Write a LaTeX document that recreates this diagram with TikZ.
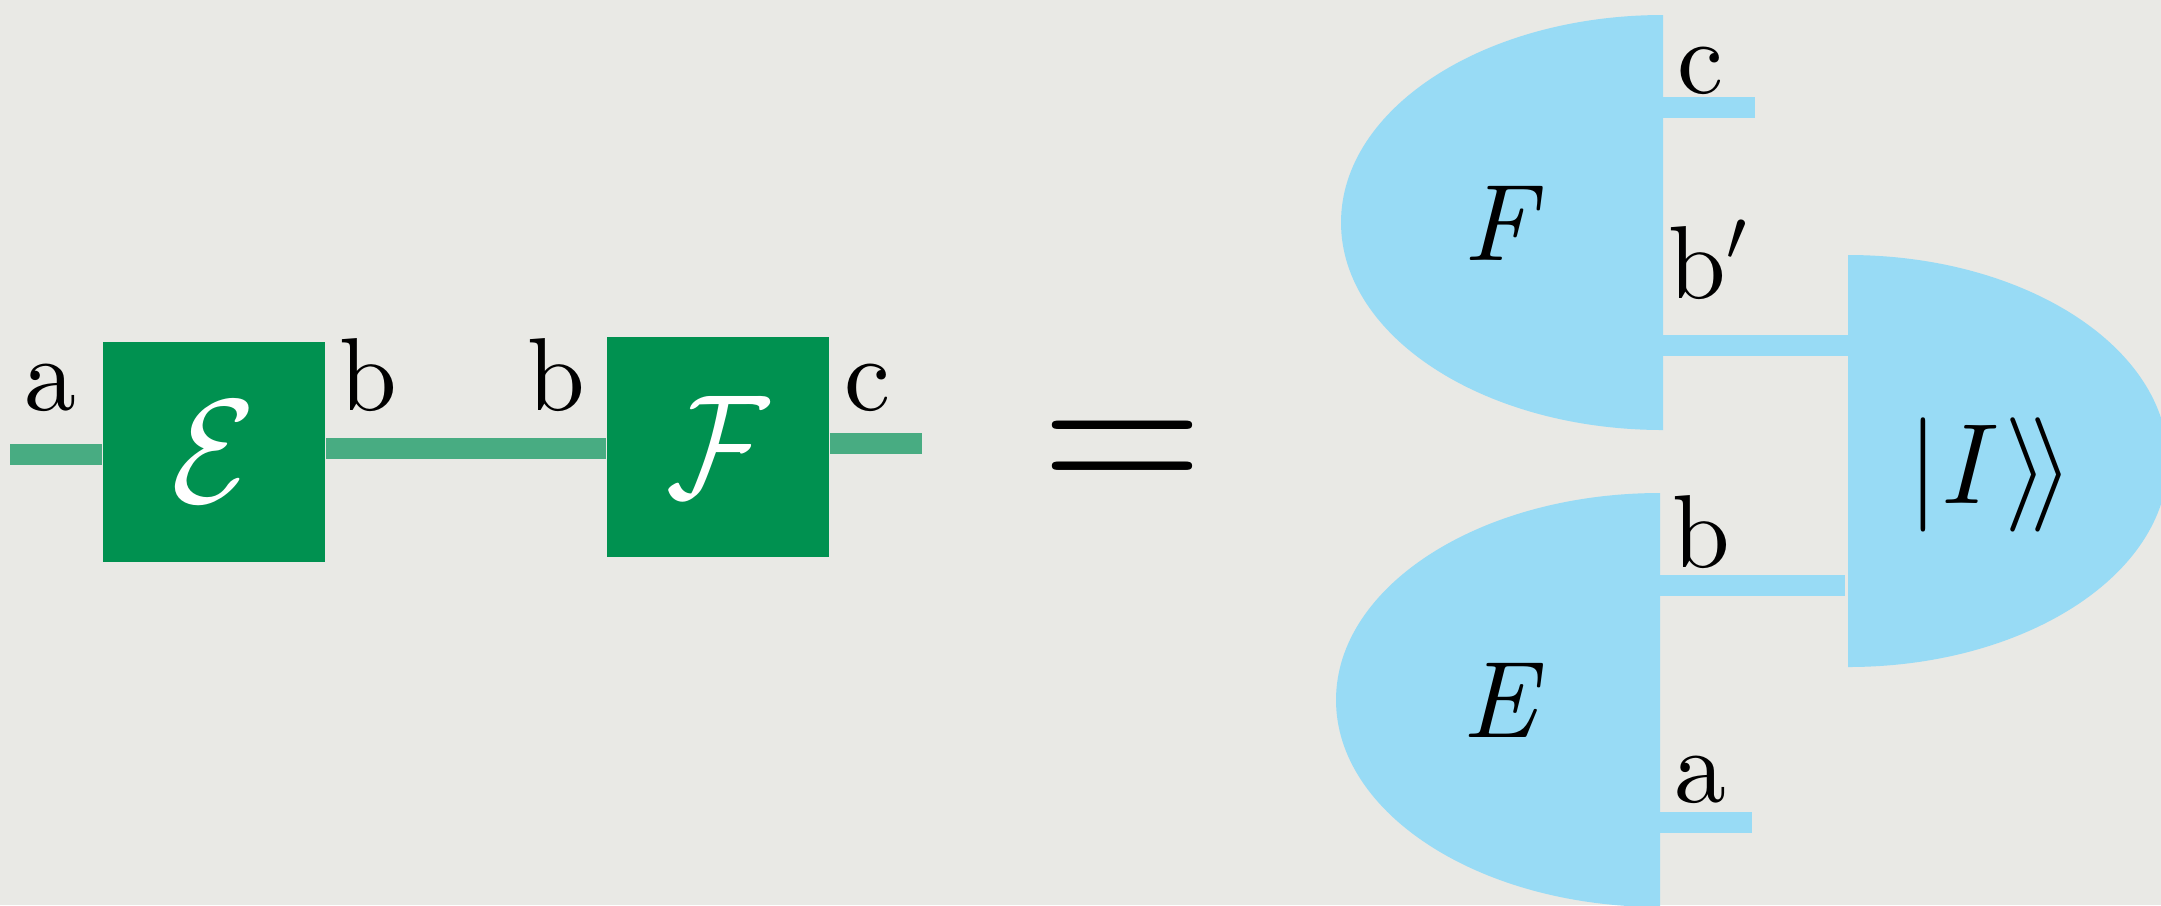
\RequirePackage{fix-cm}
\documentclass[tikz,border=0pt]{standalone}
\usepackage{graphicx}
\usepackage{fontspec}
\setmainfont{lmroman10-regular.otf}[ItalicFont=lmroman10-italic.otf]
\definecolor{bg}{RGB}{233,233,229}
\definecolor{boxgreen}{RGB}{0,145,80}
\definecolor{wiregreen}{RGB}{72,172,130}
\definecolor{skyblue}{RGB}{152,219,245}
\newcommand{\calglyph}[2]{\raisebox{-0.08cm}{\scalebox{#2}[1]{$\mathcal{#1}$}}}
\begin{document}
\begin{tikzpicture}[x=0.01cm,y=-0.01cm,
  gbox/.style={fill=boxgreen, minimum width=2.22cm, minimum height=2.20cm, inner sep=0pt, text=white, font=\fontsize{42}{50}\selectfont},
  gwire/.style={draw=wiregreen, line width=0.21cm},
  bwire/.style={draw=skyblue, line width=0.21cm},
  lab/.style={anchor=base, inner sep=0pt, font=\fontsize{29.5}{35}\selectfont},
  biglab/.style={anchor=base, inner sep=0pt, font=\fontsize{31}{37}\selectfont},
  half/.style={fill=skyblue}]
\fill[bg] (0,0) rectangle (2161,905);
\useasboundingbox (0,0) rectangle (2161,905);
\clip (0,0) rectangle (2161,905);

% ---------- left: circuit ----------
\node[gbox] (E) at (214,452) {\calglyph{E}{0.93}};
\node[gbox] (F) at (718,447) {\calglyph{F}{0.85}};
\coordinate (a0) at (10,454);
\coordinate (m0) at (0,448);
\coordinate (c1) at (922,443);
\draw[gwire] (a0) -- (a0 -| E.west);
\draw[gwire] (m0 -| E.east) -- (m0 -| F.west);
\draw[gwire] (c1 -| F.east) -- (c1);

\node[lab] (la) at (50,410) {a};
\node[lab] (lb1) at (368,410) {b};
\node[lab] (lb2) at (556,410) {b};
\node[lab] (lc) at (868,410) {c};

% ---------- equals ----------
\node[anchor=base, inner sep=0pt, font=\fontsize{60}{70}\selectfont] (eq) at (1123,498) {=};

% ---------- right: half-ellipse effects ----------
% F (top)
\fill[half] (1663,15) .. controls (1485.2,15) and (1341,107.9) .. (1341,222.5)
  .. controls (1341,337.1) and (1485.2,430) .. (1663,430) -- cycle;
% E (bottom)
\fill[half] (1660,493) .. controls (1481.1,493) and (1336,585.7) .. (1336,700)
  .. controls (1336,814.3) and (1481.1,907) .. (1660,907) -- cycle;
% |I>> (right)
\fill[half] (1848,255) .. controls (2024.7,255) and (2168,347.2) .. (2168,461)
  .. controls (2168,574.8) and (2024.7,667) .. (1848,667) -- cycle;

\coordinate (Fc) at (1660,107);   \coordinate (cOut) at (1755,107);
\coordinate (Fb) at (1657,345);   \coordinate (Ib) at (1849,345);
\coordinate (Eb) at (1660,585);   \coordinate (Ib2) at (1845,585);
\coordinate (Ea) at (1656,822);   \coordinate (aOut) at (1752,822);
\draw[bwire] (Fc) -- (cOut);
\draw[bwire] (Fb) -- (Ib);
\draw[bwire] (Eb) -- (Ib2);
\draw[bwire] (Ea) -- (aOut);

\node[lab] (rc) at (1701,93) {c};
\node[lab] (rbp) at (1708,298) {b$'$};
\node[biglab] (Flab) at (1503,260) {\textit{F}};
\node[lab] (rb) at (1701,567) {b};
\node[biglab] (Elab) at (1503,737) {\textit{E}};
\node[lab] (ra) at (1700,802) {a};
\node[inner sep=0pt, font=\fontsize{32.5}{39}\selectfont] (Ilab) at (1991,475) {$|\textit{I}\kern0.18em\rangle\!\rangle$};
\end{tikzpicture}
\end{document}
